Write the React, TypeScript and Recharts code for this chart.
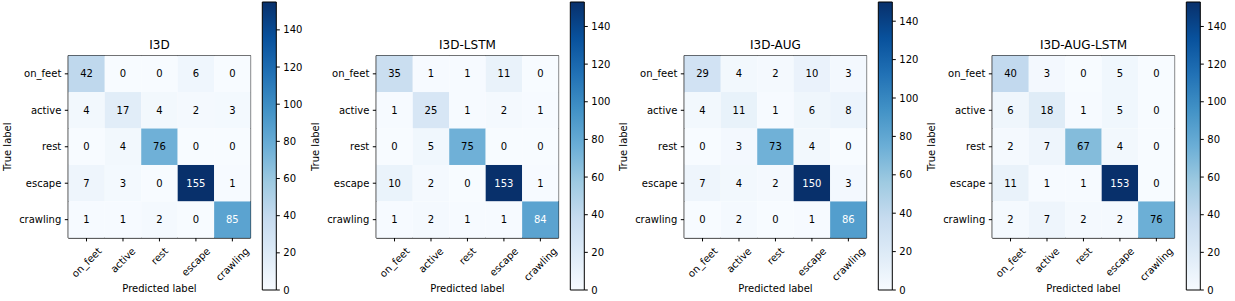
import React from 'react';
import { ScatterChart, Scatter, XAxis, YAxis, BarChart, Bar, Label, ReferenceArea } from 'recharts';

// ---------- data ----------
const classes = ['on_feet', 'active', 'rest', 'escape', 'crawling'];
const titles = ['I3D', 'I3D-LSTM', 'I3D-AUG', 'I3D-AUG-LSTM'];

const i3d = [
  [42, 0, 0, 6, 0],
  [4, 17, 4, 2, 3],
  [0, 4, 76, 0, 0],
  [7, 3, 0, 155, 1],
  [1, 1, 2, 0, 85],
];
const i3dLstm = [
  [35, 1, 1, 11, 0],
  [1, 25, 1, 2, 1],
  [0, 5, 75, 0, 0],
  [10, 2, 0, 153, 1],
  [1, 2, 1, 1, 84],
];
const i3dAug = [
  [29, 4, 2, 10, 3],
  [4, 11, 1, 6, 8],
  [0, 3, 73, 4, 0],
  [7, 4, 2, 150, 3],
  [0, 2, 0, 1, 86],
];
const i3dAugLstm = [
  [40, 3, 0, 5, 0],
  [6, 18, 1, 5, 0],
  [2, 7, 67, 4, 0],
  [11, 1, 1, 153, 0],
  [2, 7, 2, 2, 76],
];
const matrices = [i3d, i3dLstm, i3dAug, i3dAugLstm];
const colorbarTicks = [0, 20, 40, 60, 80, 100, 120, 140];
const classIndex = [0, 1, 2, 3, 4];

// ---------- style / layout ----------
const FONT = '"DejaVu Sans", sans-serif';
const BLUES = ['#f7fbff', '#deebf7', '#c6dbef', '#9ecae1', '#6baed6', '#4292c6', '#2171b5', '#08519c', '#08306b'];
const PANEL_W = 308;
const CHART_W = 308;
const CHART_H = 301;
const PLOT_L = 68.3;
const PLOT_T = 55.6;
const PLOT_W = 182.3;
const PLOT_H = 182.3;
const CELL = PLOT_W / 5;
const Y_AXIS_W = 60;
const X_AXIS_H = 40;

const hexToRgb = (h: string) => [parseInt(h.slice(1, 3), 16), parseInt(h.slice(3, 5), 16), parseInt(h.slice(5, 7), 16)];
const blues = (t: number) => {
  const tt = Math.max(0, Math.min(1, t)) * (BLUES.length - 1);
  const i = Math.min(BLUES.length - 2, Math.floor(tt));
  const f = tt - i;
  const a = hexToRgb(BLUES[i]);
  const b = hexToRgb(BLUES[i + 1]);
  const c = a.map((v, k) => Math.round(v + (b[k] - v) * f));
  return `rgb(${c[0]},${c[1]},${c[2]})`;
};

let ctx: CanvasRenderingContext2D | null = null;
const measure = (s: string, size: number) => {
  if (!ctx) ctx = document.createElement('canvas').getContext('2d');
  if (!ctx) return s.length * size * 0.6;
  ctx.font = `${size}px "DejaVu Sans"`;
  return ctx.measureText(s).width;
};

const XTick = (props: any) => {
  const { x, payload } = props;
  const label = classes[payload.value] ?? '';
  const w = measure(label, 10);
  const half = ((w + 11.6) * Math.SQRT1_2) / 2;
  const top = PLOT_T + PLOT_H + 7.3;
  const cy = top + half;
  return (
    <text
      x={x}
      y={cy}
      textAnchor="middle"
      dominantBaseline="central"
      fontSize={10}
      fontFamily={FONT}
      fill="#000"
      transform={`rotate(-45 ${x} ${cy})`}
    >
      {label}
    </text>
  );
};

const Panel = ({ idx }: { idx: number }) => {
  const m = matrices[idx];
  const max = Math.max(...m.flat());
  const data = m.flatMap((row, r) => row.map((v, c) => ({ x: c, y: r, v })));
  const cellShape = (p: any) => {
    const { cx, cy, payload } = p;
    return (
      <g>
        <rect x={cx - CELL / 2} y={cy - CELL / 2} width={CELL} height={CELL} fill={blues(payload.v / max)} />
        <text
          x={cx}
          y={cy}
          textAnchor="middle"
          dominantBaseline="central"
          fontSize={10}
          fontFamily={FONT}
          fill={payload.v > max / 2 ? '#fff' : '#000'}
        >
          {payload.v}
        </text>
      </g>
    );
  };
  const cbData = [{ k: 'cb', v: max }];
  const gid = `cbgrad${idx}`;
  return (
    <div style={{ position: 'absolute', left: idx * PANEL_W, top: 0, width: PANEL_W, height: CHART_H }}>
      <div style={{ position: 'absolute', left: 0, top: 0 }}>
        <ScatterChart
          width={CHART_W}
          height={CHART_H}
          margin={{
            top: PLOT_T,
            left: PLOT_L - Y_AXIS_W,
            right: CHART_W - PLOT_L - PLOT_W,
            bottom: CHART_H - PLOT_T - PLOT_H - X_AXIS_H,
          }}
        >
          <XAxis
            xAxisId="b"
            dataKey="x"
            type="number"
            domain={[-0.5, 4.5]}
            ticks={classIndex}
            height={X_AXIS_H}
            tickSize={3.5}
            tickMargin={3.5}
            tick={<XTick />}
            interval={0}
            axisLine={{ stroke: '#000' }}
            tickLine={{ stroke: '#000' }}
          >
            <Label
              content={() => (
                <g>
                  <text x={PLOT_L + PLOT_W / 2} y={292} textAnchor="middle" fontSize={10} fontFamily={FONT} fill="#000">
                    Predicted label
                  </text>
                  <text x={PLOT_L + PLOT_W / 2} y={PLOT_T - 6.2} textAnchor="middle" fontSize={12} fontFamily={FONT} fill="#000">
                    {titles[idx]}
                  </text>
                </g>
              )}
            />
          </XAxis>
          <XAxis
            xAxisId="t"
            orientation="top"
            type="number"
            domain={[-0.5, 4.5]}
            height={0}
            tick={false}
            tickLine={false}
            axisLine={{ stroke: '#000' }}
          />
          <YAxis
            yAxisId="l"
            dataKey="y"
            type="number"
            domain={[-0.5, 4.5]}
            reversed
            ticks={classIndex}
            interval={0}
            width={Y_AXIS_W}
            tickSize={3.5}
            tickMargin={3.5}
            tickFormatter={(v: number) => classes[v] ?? ''}
            tick={{ fontSize: 10, fill: '#000', fontFamily: FONT }}
            axisLine={{ stroke: '#000' }}
            tickLine={{ stroke: '#000' }}
          >
            <Label
              content={() => (
                <text
                  x={10.8}
                  y={PLOT_T + PLOT_H / 2}
                  textAnchor="middle"
                  fontSize={10}
                  fontFamily={FONT}
                  fill="#000"
                  transform={`rotate(-90 10.8 ${PLOT_T + PLOT_H / 2})`}
                >
                  True label
                </text>
              )}
            />
          </YAxis>
          <YAxis
            yAxisId="r"
            orientation="right"
            type="number"
            domain={[-0.5, 4.5]}
            width={0}
            tick={false}
            tickLine={false}
            axisLine={{ stroke: '#000' }}
          />
          <Scatter
            data={data}
            xAxisId="b"
            yAxisId="l"
            shape={cellShape}
            isAnimationActive={false}
          />
          <ReferenceArea
            xAxisId="b"
            yAxisId="l"
            x1={-0.5}
            x2={4.5}
            y1={-0.5}
            y2={4.5}
            fill="none"
            fillOpacity={0}
            stroke="#000"
            strokeWidth={1}
            strokeOpacity={1}
            ifOverflow="visible"
          />
        </ScatterChart>
      </div>
      <div style={{ position: 'absolute', left: 250, top: 0 }}>
        <BarChart
          width={58}
          height={CHART_H}
          data={cbData}
          margin={{ top: 2, bottom: 11, left: 12.3, right: 0 }}
          barCategoryGap={0}
          barGap={0}
        >
          <defs>
            <linearGradient id={gid} x1="0" y1="1" x2="0" y2="0">
              {BLUES.map((c, i) => (
                <stop key={i} offset={`${(i / (BLUES.length - 1)) * 100}%`} stopColor={c} />
              ))}
            </linearGradient>
          </defs>
          <XAxis dataKey="k" hide />
          <YAxis
            orientation="right"
            type="number"
            domain={[0, max]}
            ticks={colorbarTicks}
            interval={0}
            width={31.7}
            tickSize={3.5}
            tickMargin={3.5}
            axisLine={false}
            tick={{ fontSize: 10, fill: '#000', fontFamily: FONT }}
            tickLine={{ stroke: '#000' }}
          />
          <Bar dataKey="v" fill={`url(#${gid})`} stroke="#000" strokeWidth={1} isAnimationActive={false} />
        </BarChart>
      </div>
    </div>
  );
}

export default function App() {
  return (
    <div
      style={{
        position: 'absolute',
        left: 0,
        top: 0,
        width: 1235,
        height: 301,
        background: '#fff',
        fontFamily: FONT,
        overflow: 'hidden',
      }}
    >
      {[0, 1, 2, 3].map((i) => (
        <Panel key={i} idx={i} />
      ))}
    </div>
  );
}
